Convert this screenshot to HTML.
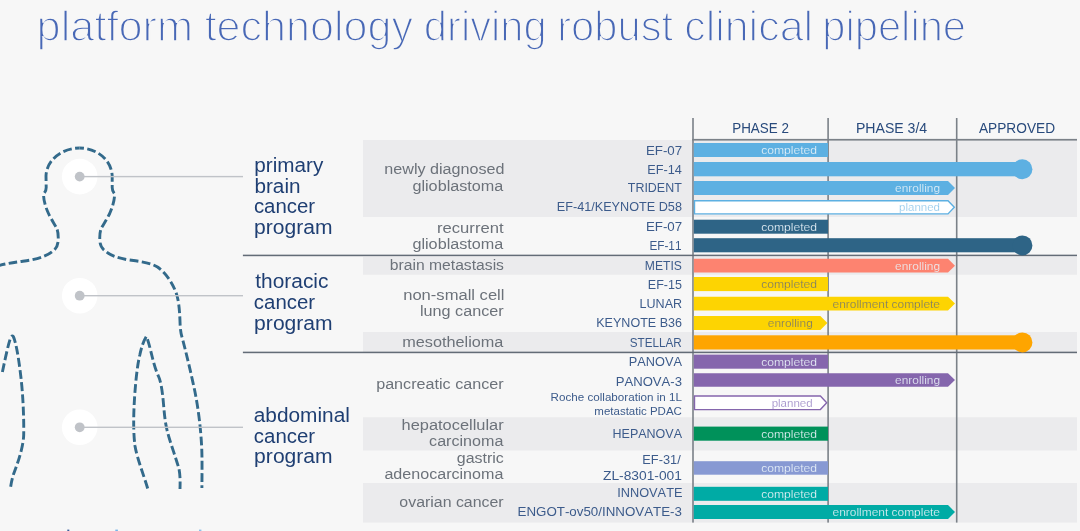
<!DOCTYPE html>
<html>
<head>
<meta charset="utf-8">
<style>
html,body{margin:0;padding:0;background:#f7f7f7;}
body{width:1080px;height:531px;overflow:hidden;position:relative;font-family:"Liberation Sans",sans-serif;}
svg{position:absolute;left:0;top:0;will-change:transform;}
svg text{font-family:"Liberation Sans",sans-serif;font-kerning:none;}
</style>
</head>
<body>
<svg width="1080" height="531" viewBox="0 0 1080 531">
  <!-- shaded rows -->
  <g fill="#ebebed">
    <rect x="363" y="140" width="714" height="77"/>
    <rect x="363" y="257" width="714" height="17.8"/>
    <rect x="363" y="332" width="714" height="20"/>
    <rect x="363" y="417.2" width="714" height="33.3"/>
    <rect x="363" y="483" width="714" height="39.6"/>
  </g>
  <!-- column lines -->
  <g fill="#7b8188">
    <rect x="692.2" y="118" width="1.6" height="404.6"/>
    <rect x="827.3" y="118" width="1.6" height="404.6"/>
    <rect x="955.9" y="118" width="1.6" height="404.6"/>
    <rect x="692.2" y="138.9" width="384.8" height="1.7"/>
  </g>
  <!-- program separators -->
  <g fill="#636c77">
    <rect x="242.9" y="254.65" width="834.1" height="1.55"/>
    <rect x="242.9" y="351.65" width="834.1" height="1.55"/>
  </g>

  <!-- human figure -->
  <g fill="none" stroke="#336a8b" stroke-width="2.9" stroke-dasharray="8.8 3.4">
    <path stroke-dashoffset="4.4" d="M79.5,148 C62,148 46.5,160 46,176 L46.2,187.5 C46.2,190.5 45,192.3 43.6,194 C43.4,200 45.5,207 48.5,213.5 C51,219 54.8,224.5 56.8,228.5 C58,231 58.4,236 58.2,240 C58,245 56.5,248.5 53,251 C48,255.5 40,258 31,260 C22,261.5 10,262.5 -3,266"/>
    <path stroke-dashoffset="4.4" d="M79.5,148 C97,148 111.5,160 112.2,176 L112.2,187.5 C112.2,190.5 113.2,192.3 114.6,194 C114.7,200 112.5,207 109.7,213.5 C107,219 103.3,224.5 101.2,228.5 C100,231 99.6,236 99.8,240 C100,245 101.5,248.5 105.5,251.2 C110.5,255.5 118,258 128,259.8 C140,261.5 150,262.5 157.5,267 C166,273 172.5,283 176.2,293 C179,301 179.7,312 180.1,324 C180.3,330 181,334 182.5,339 C186,352 191,373 195,392 C198.5,410 201,430 201.8,450 C202.2,462 202,475 201.9,488"/>
    <path d="M2.4,372 C4.5,362 8,345 10.5,338 C11.3,336 12.3,335.5 13.3,336.5 C16,342 19,360 21,378 C23,395 24,418 23.7,435 C23.3,448 17,465 13.6,474 C12,479 11,484 10.2,490"/>
    <path d="M147.7,488.5 C144,476 137,458 135,446 C133.3,433 133.5,418 134.2,404 C135,388 137,366 139.8,355 C141.5,347 143.5,341 146.3,336.5 C148.5,341 150.5,350 152.5,358 C154,364 156,371 158.6,376.5 C161,382 162.5,392 163.5,404 C164.5,416 165.5,425 167.5,432 C170,442 176,458 179,469 C180.3,476 180.2,482 180,489"/>
  </g>
  <!-- target circles + connecting lines -->
  <g fill="#ffffff">
    <circle cx="79.7" cy="176.6" r="17.8"/>
    <circle cx="79.7" cy="295.7" r="17.8"/>
    <circle cx="79.7" cy="427.3" r="17.8"/>
  </g>
  <g fill="#c0c3c8">
    <rect x="79.7" y="175.9" width="163.3" height="1.4"/>
    <rect x="79.7" y="295.0" width="163.3" height="1.4"/>
    <rect x="79.7" y="426.6" width="163.3" height="1.4"/>
    <circle cx="79.7" cy="176.6" r="4.9"/>
    <circle cx="79.7" cy="295.7" r="4.9"/>
    <circle cx="79.7" cy="427.3" r="4.9"/>
  </g>
  <!-- cut-off glyph tops at bottom edge -->
  <rect x="67.3" y="529.6" width="2" height="1.4" fill="#3d5f9e"/>
  <rect x="115.3" y="529.6" width="2.6" height="1.4" fill="#78b4e8"/>
  <rect x="199" y="529.6" width="2.4" height="1.4" fill="#8cc0ec"/>
  <!-- bars -->
  <rect x="693.8" y="143" width="134.2" height="14" fill="#5db0e2"/>
  <rect x="693.8" y="162" width="328.6" height="14.3" fill="#5db0e2"/><circle cx="1022.4" cy="169.2" r="10" fill="#5db0e2"/>
  <path d="M693.8,181 H948.0 L955.0,188.00 L948.0,195.00 H693.8 Z" fill="#5db0e2"/>
  <path d="M694.5,200.7 H948 L954.3,207.30 L948,213.90 H694.5 Z" fill="#ffffff" stroke="#5db0e2" stroke-width="1.4"/>
  <rect x="693.8" y="219.7" width="134.2" height="14" fill="#2e6486"/>
  <rect x="693.8" y="238.2" width="328.6" height="14.1" fill="#2e6486"/><circle cx="1022.4" cy="245.4" r="10" fill="#2e6486"/>
  <path d="M693.8,258.8 H948.0 L955.0,265.65 L948.0,272.50 H693.8 Z" fill="#fd8370"/>
  <rect x="693.8" y="277" width="134.2" height="14.1" fill="#fdd402"/>
  <path d="M693.8,296.7 H948.0 L955.0,303.60 L948.0,310.50 H693.8 Z" fill="#fdd402"/>
  <path d="M693.8,316.1 H820.4 L827.4,323.10 L820.4,330.10 H693.8 Z" fill="#fdd402"/>
  <rect x="693.8" y="335.3" width="328.6" height="14.2" fill="#fea500"/><circle cx="1022.4" cy="342.4" r="10" fill="#fea500"/>
  <rect x="693.8" y="354.6" width="134.2" height="14.1" fill="#8566ad"/>
  <path d="M693.8,373.2 H948.0 L955.0,380.00 L948.0,386.80 H693.8 Z" fill="#8566ad"/>
  <path d="M694.5,396 H820.4 L826.6999999999999,402.80 L820.4,409.60 H694.5 Z" fill="#ffffff" stroke="#8566ad" stroke-width="1.4"/>
  <rect x="693.8" y="426.6" width="134.2" height="14.1" fill="#00915a"/>
  <rect x="693.8" y="461.2" width="134.2" height="13.5" fill="#8799d3"/>
  <rect x="693.8" y="486.8" width="134.2" height="14" fill="#00aba5"/>
  <path d="M693.8,505.1 H948.0 L955.0,512.00 L948.0,518.90 H693.8 Z" fill="#00aba5"/>

  <!-- texts -->
  <text x="36.61" y="40.5" font-size="42" textLength="156.45" lengthAdjust="spacingAndGlyphs" fill="#4868b6" stroke="#f7f7f7" stroke-width="1.65">platform</text>
  <text x="204.65" y="40.5" font-size="42" textLength="208.44" lengthAdjust="spacingAndGlyphs" fill="#4868b6" stroke="#f7f7f7" stroke-width="1.65">technology</text>
  <text x="423.85" y="40.5" font-size="42" textLength="122.73" lengthAdjust="spacingAndGlyphs" fill="#4868b6" stroke="#f7f7f7" stroke-width="1.65">driving</text>
  <text x="557.23" y="40.5" font-size="42" textLength="115.87" lengthAdjust="spacingAndGlyphs" fill="#4868b6" stroke="#f7f7f7" stroke-width="1.65">robust</text>
  <text x="684.18" y="40.5" font-size="42" textLength="128.90" lengthAdjust="spacingAndGlyphs" fill="#4868b6" stroke="#f7f7f7" stroke-width="1.65">clinical</text>
  <text x="822.31" y="40.5" font-size="42" textLength="143.74" lengthAdjust="spacingAndGlyphs" fill="#4868b6" stroke="#f7f7f7" stroke-width="1.65">pipeline</text>
  <text x="732.20" y="132.6" font-size="15" textLength="56.68" lengthAdjust="spacingAndGlyphs" fill="#284a7c">PHASE 2</text>
  <text x="855.94" y="132.5" font-size="15" textLength="71.27" lengthAdjust="spacingAndGlyphs" fill="#284a7c">PHASE 3/4</text>
  <text x="978.97" y="132.6" font-size="15" textLength="76.08" lengthAdjust="spacingAndGlyphs" fill="#284a7c">APPROVED</text>
  <text x="254.37" y="171.8" font-size="19.6" textLength="68.97" lengthAdjust="spacingAndGlyphs" fill="#1f3f73">primary</text>
  <text x="254.46" y="192.6" font-size="19.6" textLength="46.08" lengthAdjust="spacingAndGlyphs" fill="#1f3f73">brain</text>
  <text x="253.93" y="213.3" font-size="19.6" textLength="61.20" lengthAdjust="spacingAndGlyphs" fill="#1f3f73">cancer</text>
  <text x="254.14" y="234.0" font-size="19.6" textLength="78.45" lengthAdjust="spacingAndGlyphs" fill="#1f3f73">program</text>
  <text x="255.28" y="288.2" font-size="19.6" textLength="73.17" lengthAdjust="spacingAndGlyphs" fill="#1f3f73">thoracic</text>
  <text x="253.83" y="308.8" font-size="19.6" textLength="61.31" lengthAdjust="spacingAndGlyphs" fill="#1f3f73">cancer</text>
  <text x="254.14" y="329.6" font-size="19.6" textLength="78.55" lengthAdjust="spacingAndGlyphs" fill="#1f3f73">program</text>
  <text x="253.71" y="421.5" font-size="19.6" textLength="96.18" lengthAdjust="spacingAndGlyphs" fill="#1f3f73">abdominal</text>
  <text x="253.83" y="442.5" font-size="19.6" textLength="61.31" lengthAdjust="spacingAndGlyphs" fill="#1f3f73">cancer</text>
  <text x="254.14" y="462.7" font-size="19.6" textLength="78.55" lengthAdjust="spacingAndGlyphs" fill="#1f3f73">program</text>
  <text x="384.33" y="174.3" font-size="15.5" textLength="120.11" lengthAdjust="spacingAndGlyphs" fill="#6c727a">newly diagnosed</text>
  <text x="412.42" y="190.5" font-size="15.5" textLength="90.98" lengthAdjust="spacingAndGlyphs" fill="#6c727a">glioblastoma</text>
  <text x="437.00" y="232.5" font-size="15.5" textLength="66.53" lengthAdjust="spacingAndGlyphs" fill="#6c727a">recurrent</text>
  <text x="412.42" y="248.5" font-size="15.5" textLength="90.98" lengthAdjust="spacingAndGlyphs" fill="#6c727a">glioblastoma</text>
  <text x="389.79" y="269.8" font-size="15.5" textLength="114.18" lengthAdjust="spacingAndGlyphs" fill="#6c727a">brain metastasis</text>
  <text x="403.20" y="300.2" font-size="15.5" textLength="101.31" lengthAdjust="spacingAndGlyphs" fill="#6c727a">non-small cell</text>
  <text x="419.91" y="316.1" font-size="15.5" textLength="83.76" lengthAdjust="spacingAndGlyphs" fill="#6c727a">lung cancer</text>
  <text x="402.22" y="346.5" font-size="15.5" textLength="101.18" lengthAdjust="spacingAndGlyphs" fill="#6c727a">mesothelioma</text>
  <text x="376.16" y="388.6" font-size="15.5" textLength="127.51" lengthAdjust="spacingAndGlyphs" fill="#6c727a">pancreatic cancer</text>
  <text x="401.56" y="429.8" font-size="15.5" textLength="102.11" lengthAdjust="spacingAndGlyphs" fill="#6c727a">hepatocellular</text>
  <text x="429.12" y="446.2" font-size="15.5" textLength="74.28" lengthAdjust="spacingAndGlyphs" fill="#6c727a">carcinoma</text>
  <text x="456.83" y="462.6" font-size="15.5" textLength="46.99" lengthAdjust="spacingAndGlyphs" fill="#6c727a">gastric</text>
  <text x="384.42" y="479.4" font-size="15.5" textLength="118.98" lengthAdjust="spacingAndGlyphs" fill="#6c727a">adenocarcinoma</text>
  <text x="399.33" y="506.8" font-size="15.5" textLength="104.33" lengthAdjust="spacingAndGlyphs" fill="#6c727a">ovarian cancer</text>
  <text x="645.91" y="154.6" font-size="13.3" textLength="36.26" lengthAdjust="spacingAndGlyphs" fill="#3c5b8b">EF-07</text>
  <text x="647.26" y="173.7" font-size="13.3" textLength="34.62" lengthAdjust="spacingAndGlyphs" fill="#3c5b8b">EF-14</text>
  <text x="627.82" y="192.4" font-size="13.3" textLength="53.97" lengthAdjust="spacingAndGlyphs" fill="#3c5b8b">TRIDENT</text>
  <text x="556.76" y="211.3" font-size="13.3" textLength="125.19" lengthAdjust="spacingAndGlyphs" fill="#3c5b8b">EF-41/KEYNOTE D58</text>
  <text x="645.91" y="231.0" font-size="13.3" textLength="36.26" lengthAdjust="spacingAndGlyphs" fill="#3c5b8b">EF-07</text>
  <text x="649.43" y="250.0" font-size="13.3" textLength="32.04" lengthAdjust="spacingAndGlyphs" fill="#3c5b8b">EF-11</text>
  <text x="644.81" y="269.6" font-size="13.3" textLength="37.05" lengthAdjust="spacingAndGlyphs" fill="#3c5b8b">METIS</text>
  <text x="647.87" y="289.2" font-size="13.3" textLength="34.05" lengthAdjust="spacingAndGlyphs" fill="#3c5b8b">EF-15</text>
  <text x="639.57" y="308.2" font-size="13.3" textLength="42.51" lengthAdjust="spacingAndGlyphs" fill="#3c5b8b">LUNAR</text>
  <text x="596.27" y="327.3" font-size="13.3" textLength="85.68" lengthAdjust="spacingAndGlyphs" fill="#3c5b8b">KEYNOTE B36</text>
  <text x="629.77" y="346.8" font-size="13.3" textLength="51.97" lengthAdjust="spacingAndGlyphs" fill="#3c5b8b">STELLAR</text>
  <text x="628.75" y="366.1" font-size="13.3" textLength="53.17" lengthAdjust="spacingAndGlyphs" fill="#3c5b8b">PANOVA</text>
  <text x="615.73" y="385.6" font-size="13.3" textLength="66.25" lengthAdjust="spacingAndGlyphs" fill="#3c5b8b">PANOVA-3</text>
  <text x="612.57" y="438.1" font-size="13.3" textLength="69.45" lengthAdjust="spacingAndGlyphs" fill="#3c5b8b">HEPANOVA</text>
  <text x="642.35" y="463.7" font-size="13.3" textLength="38.35" lengthAdjust="spacingAndGlyphs" fill="#3c5b8b">EF-31/</text>
  <text x="602.96" y="479.8" font-size="13.3" textLength="79.01" lengthAdjust="spacingAndGlyphs" fill="#3c5b8b">ZL-8301-001</text>
  <text x="617.22" y="497.4" font-size="13.3" textLength="65.23" lengthAdjust="spacingAndGlyphs" fill="#3c5b8b">INNOVATE</text>
  <text x="517.51" y="516.3" font-size="13.3" textLength="164.48" lengthAdjust="spacingAndGlyphs" fill="#3c5b8b">ENGOT-ov50/INNOVATE-3</text>
  <text x="550.55" y="401.4" font-size="11.4" textLength="131.34" lengthAdjust="spacingAndGlyphs" fill="#3c5b8b">Roche collaboration in 1L</text>
  <text x="594.34" y="414.9" font-size="11.4" textLength="87.60" lengthAdjust="spacingAndGlyphs" fill="#3c5b8b">metastatic PDAC</text>

  <!-- bar labels -->
  <text x="761.19" y="154.3" font-size="11.4" textLength="55.90" lengthAdjust="spacingAndGlyphs" fill="#eaf3f9" stroke="#5db0e2" stroke-width="0.2">completed</text>
  <text x="895.09" y="192.2" font-size="11.4" textLength="44.97" lengthAdjust="spacingAndGlyphs" fill="#eaf3f9" stroke="#5db0e2" stroke-width="0.2">enrolling</text>
  <text x="899.06" y="210.8" font-size="11.4" textLength="40.98" lengthAdjust="spacingAndGlyphs" fill="#8ec7eb" stroke="#ffffff" stroke-width="0.2">planned</text>
  <text x="761.19" y="230.9" font-size="11.4" textLength="55.90" lengthAdjust="spacingAndGlyphs" fill="#eaf3f9" stroke="#2e6486" stroke-width="0.2">completed</text>
  <text x="895.09" y="269.6" font-size="11.4" textLength="44.97" lengthAdjust="spacingAndGlyphs" fill="#eaf3f9" stroke="#fd8370" stroke-width="0.2">enrolling</text>
  <text x="761.19" y="288.4" font-size="11.4" textLength="55.90" lengthAdjust="spacingAndGlyphs" fill="#7b7a6a" stroke="#fdd402" stroke-width="0.2">completed</text>
  <text x="832.49" y="307.6" font-size="11.4" textLength="107.54" lengthAdjust="spacingAndGlyphs" fill="#7b7a6a" stroke="#fdd402" stroke-width="0.2">enrollment complete</text>
  <text x="767.79" y="327.1" font-size="11.4" textLength="44.97" lengthAdjust="spacingAndGlyphs" fill="#7b7a6a" stroke="#fdd402" stroke-width="0.2">enrolling</text>
  <text x="761.19" y="365.9" font-size="11.4" textLength="55.90" lengthAdjust="spacingAndGlyphs" fill="#eaf3f9" stroke="#8566ad" stroke-width="0.2">completed</text>
  <text x="895.09" y="384.0" font-size="11.4" textLength="44.97" lengthAdjust="spacingAndGlyphs" fill="#eaf3f9" stroke="#8566ad" stroke-width="0.2">enrolling</text>
  <text x="771.66" y="406.5" font-size="11.4" textLength="40.98" lengthAdjust="spacingAndGlyphs" fill="#9682c3" stroke="#ffffff" stroke-width="0.2">planned</text>
  <text x="761.19" y="437.5" font-size="11.4" textLength="55.90" lengthAdjust="spacingAndGlyphs" fill="#eaf3f9" stroke="#00915a" stroke-width="0.2">completed</text>
  <text x="761.19" y="472.1" font-size="11.4" textLength="55.90" lengthAdjust="spacingAndGlyphs" fill="#eaf3f9" stroke="#8799d3" stroke-width="0.2">completed</text>
  <text x="761.19" y="497.9" font-size="11.4" textLength="55.90" lengthAdjust="spacingAndGlyphs" fill="#eaf3f9" stroke="#00aba5" stroke-width="0.2">completed</text>
  <text x="832.49" y="516.0" font-size="11.4" textLength="107.54" lengthAdjust="spacingAndGlyphs" fill="#eaf3f9" stroke="#00aba5" stroke-width="0.2">enrollment complete</text>
</svg>
</body>
</html>
